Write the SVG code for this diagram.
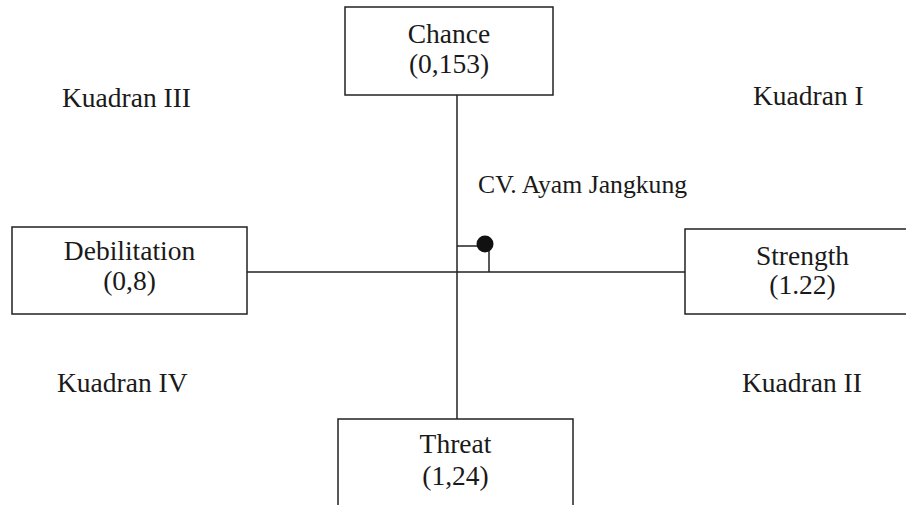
<svg xmlns="http://www.w3.org/2000/svg" width="906" height="505" viewBox="0 0 906 505">
<style>
.box{fill:#fff;stroke:#222;stroke-width:1.5}
.ln{stroke:#222;stroke-width:1.5;fill:none}
text{font-family:"Liberation Serif","Times New Roman",serif;font-size:27.5px;fill:#1a1a1a}
.c{text-anchor:middle}
</style>
<rect width="906" height="505" fill="#fff"/>
<g id="connectors">
<line class="ln" x1="457" y1="95" x2="457" y2="419"/>
<line class="ln" x1="247" y1="272" x2="685" y2="272"/>
<polyline class="ln" points="457,246 484,246"/>
<line class="ln" x1="489" y1="246" x2="489" y2="272"/>
<circle cx="485" cy="244" r="8.5" fill="#111"/>
</g>
<g id="chance">
<rect class="box" x="345" y="7" width="208" height="88"/>
<text class="c" x="449" y="43">Chance</text>
<text class="c" x="449" y="73">(0,153)</text>
</g>
<g id="debilitation">
<rect class="box" x="12" y="227" width="235" height="87"/>
<text class="c" x="129.5" y="260">Debilitation</text>
<text class="c" x="129.5" y="290">(0,8)</text>
</g>
<g id="strength">
<rect class="box" x="685" y="229" width="240" height="85"/>
<text class="c" x="802.5" y="265">Strength</text>
<text class="c" x="802.5" y="294">(1.22)</text>
</g>
<g id="threat">
<rect class="box" x="338" y="419" width="235" height="100"/>
<text class="c" x="455.5" y="453">Threat</text>
<text class="c" x="455.5" y="485">(1,24)</text>
</g>
<g id="labels">
<text x="62" y="107">Kuadran III</text>
<text x="753" y="105">Kuadran I</text>
<text x="57" y="392">Kuadran IV</text>
<text x="742" y="392">Kuadran II</text>
<text x="478" y="193" style="font-size:25.7px">CV. Ayam Jangkung</text>
</g>
</svg>
